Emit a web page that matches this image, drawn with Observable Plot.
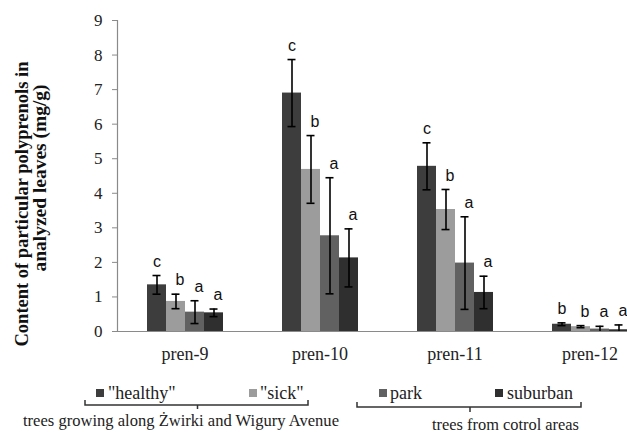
<!DOCTYPE html>
<html><head><meta charset="utf-8">
<script src="https://cdn.jsdelivr.net/npm/d3@7"></script>
<script src="https://cdn.jsdelivr.net/npm/@observablehq/plot@0.6"></script>
<style>
html,body{margin:0;padding:0;background:#fff;overflow:hidden;width:627px;height:434px}
#wrap{position:relative;width:627px;height:434px;overflow:hidden}
#chart{position:absolute;left:0;top:0;width:658px}
#chart svg{max-width:none !important}
#overlay{position:absolute;left:0;top:0}
</style></head><body>
<div id="wrap"><div id="chart"></div><svg id="overlay" width="627" height="434" xmlns="http://www.w3.org/2000/svg"></svg></div>
<script>
const groups = ["pren-9", "pren-10", "pren-11", "pren-12"];
const series = ['"healthy"', '"sick"', "park", "suburban"];
const seriesColors = ["#3d3d3d", "#9c9c9c", "#616161", "#2f2f2f"];
const yTicks = [0, 1, 2, 3, 4, 5, 6, 7, 8, 9];

const healthyMean = [1.35, 6.90, 4.78, 0.21];
const sickMean = [0.87, 4.69, 3.53, 0.14];
const parkMean = [0.56, 2.77, 1.98, 0.07];
const suburbanMean = [0.54, 2.13, 1.13, 0.05];

const healthyErr = [0.27, 0.97, 0.68, 0.04];
const sickErr = [0.21, 0.98, 0.58, 0.03];
const parkErr = [0.33, 1.68, 1.34, 0.08];
const suburbanErr = [0.11, 0.84, 0.47, 0.14];

const healthySig = ["c", "c", "c", "b"];
const sickSig = ["b", "b", "b", "b"];
const parkSig = ["a", "a", "a", "a"];
const suburbanSig = ["a", "a", "a", "a"];

const legendGroupA = "trees growing along Żwirki and Wigury Avenue";
const legendGroupB = "trees from cotrol areas";
const yTitle1 = "Content of particular polyprenols in";
const yTitle2 = "analyzed leaves (mg/g)";

const means = [healthyMean, sickMean, parkMean, suburbanMean];
const errs = [healthyErr, sickErr, parkErr, suburbanErr];
const sigs = [healthySig, sickSig, parkSig, suburbanSig];

const rows = [];
groups.forEach((g, gi) => {
  series.forEach((s, si) => {
    const v = means[si][gi], e = errs[si][gi];
    rows.push({group: g, series: s, si, value: v, lo: Math.max(0, v - e), hi: v + e, sig: sigs[si][gi], hasLo: v - e > 0});
  });
});

const chart = Plot.plot({
  width: 658,
  height: 375,
  marginTop: 20,
  marginBottom: 44,
  marginLeft: 115,
  marginRight: 0,
  style: {fontFamily: "'Liberation Serif', 'Times New Roman', serif", color: "#222", background: "transparent", maxWidth: "none"},
  fx: {domain: groups, padding: 0, label: null},
  x: {domain: series, paddingInner: 0, paddingOuter: 1.51, axis: null},
  y: {domain: [0, 9]},
  color: {domain: series, range: seriesColors},
  marks: [
    Plot.axisY(yTicks, {tickSize: 5, tickPadding: 10, fontSize: 17, stroke: "#8a8a8a", fill: "#222", label: null}),
    Plot.axisFx({anchor: "bottom", tickSize: 0, tickPadding: 16, fontSize: 18, fill: "#222", label: null}),
    Plot.barY(rows, {fx: "group", x: "series", y: "value", fill: "series"}),
    Plot.ruleY([0], {stroke: "#8a8a8a", strokeWidth: 1.2}),
    Plot.frame({anchor: "left", facetAnchor: "left", stroke: "#8a8a8a", strokeWidth: 1.2}),
    Plot.ruleX(rows, {fx: "group", x: "series", y1: "lo", y2: "hi", stroke: "#000", strokeWidth: 1.6}),
    Plot.tickY(rows, {fx: "group", x: "series", y: "hi", stroke: "#000", strokeWidth: 1.6, inset: 5.5}),
    Plot.tickY(rows.filter(d => d.hasLo), {fx: "group", x: "series", y: "lo", stroke: "#000", strokeWidth: 1.6, inset: 5.5}),
    Plot.text(rows.filter(d => d.si === 0), {fx: "group", x: "series", y: "hi", text: "sig", dy: -14, fontFamily: "'Liberation Sans', Arial, sans-serif", fontSize: 16, fill: "#111"}),
    Plot.text(rows.filter(d => d.si !== 0), {fx: "group", x: "series", y: "hi", text: "sig", dy: -14, dx: 4, fontFamily: "'Liberation Sans', Arial, sans-serif", fontSize: 16, fill: "#111"})
  ]
});
document.getElementById("chart").appendChild(chart);

// Legend and y title overlay
const ov = d3.select("#overlay");
const serif = "'Liberation Serif', 'Times New Roman', serif";
const legendItems = [
  {label: series[0], color: seriesColors[0], sx: 96, tx: 108},
  {label: series[1], color: seriesColors[1], sx: 249, tx: 260},
  {label: series[2], color: seriesColors[2], sx: 379, tx: 390},
  {label: series[3], color: seriesColors[3], sx: 495, tx: 507}
];
legendItems.forEach(it => {
  ov.append("rect").attr("x", it.sx).attr("y", 389).attr("width", 8).attr("height", 8).attr("fill", it.color);
  ov.append("text").attr("x", it.tx).attr("y", 399).attr("font-family", serif).attr("font-size", 18).attr("fill", "#222").text(it.label);
});
ov.append("path").attr("d", "M85,400 L85,405 L308,405 L308,400 M197.5,405 L197.5,409").attr("fill", "none").attr("stroke", "#333").attr("stroke-width", 1.5);
ov.append("path").attr("d", "M357,402 L357,407 L581,407 L581,402 M470,407 L470,412").attr("fill", "none").attr("stroke", "#333").attr("stroke-width", 1.5);
ov.append("text").attr("x", 23).attr("y", 426).attr("font-family", serif).attr("font-size", 17).attr("fill", "#222").attr("textLength", 316).attr("lengthAdjust", "spacingAndGlyphs").text(legendGroupA);
ov.append("text").attr("x", 432).attr("y", 430).attr("font-family", serif).attr("font-size", 16).attr("fill", "#222").attr("textLength", 147).attr("lengthAdjust", "spacingAndGlyphs").text(legendGroupB);

ov.append("text").attr("transform", "translate(28,204) rotate(-90)").attr("text-anchor", "middle").attr("font-family", serif).attr("font-weight", "bold").attr("font-size", 18).attr("fill", "#111").attr("textLength", 285).attr("lengthAdjust", "spacingAndGlyphs").text(yTitle1);
ov.append("text").attr("transform", "translate(46,178) rotate(-90)").attr("text-anchor", "middle").attr("font-family", serif).attr("font-weight", "bold").attr("font-size", 18).attr("fill", "#111").attr("textLength", 187).attr("lengthAdjust", "spacingAndGlyphs").text(yTitle2);
</script>
</body></html>
